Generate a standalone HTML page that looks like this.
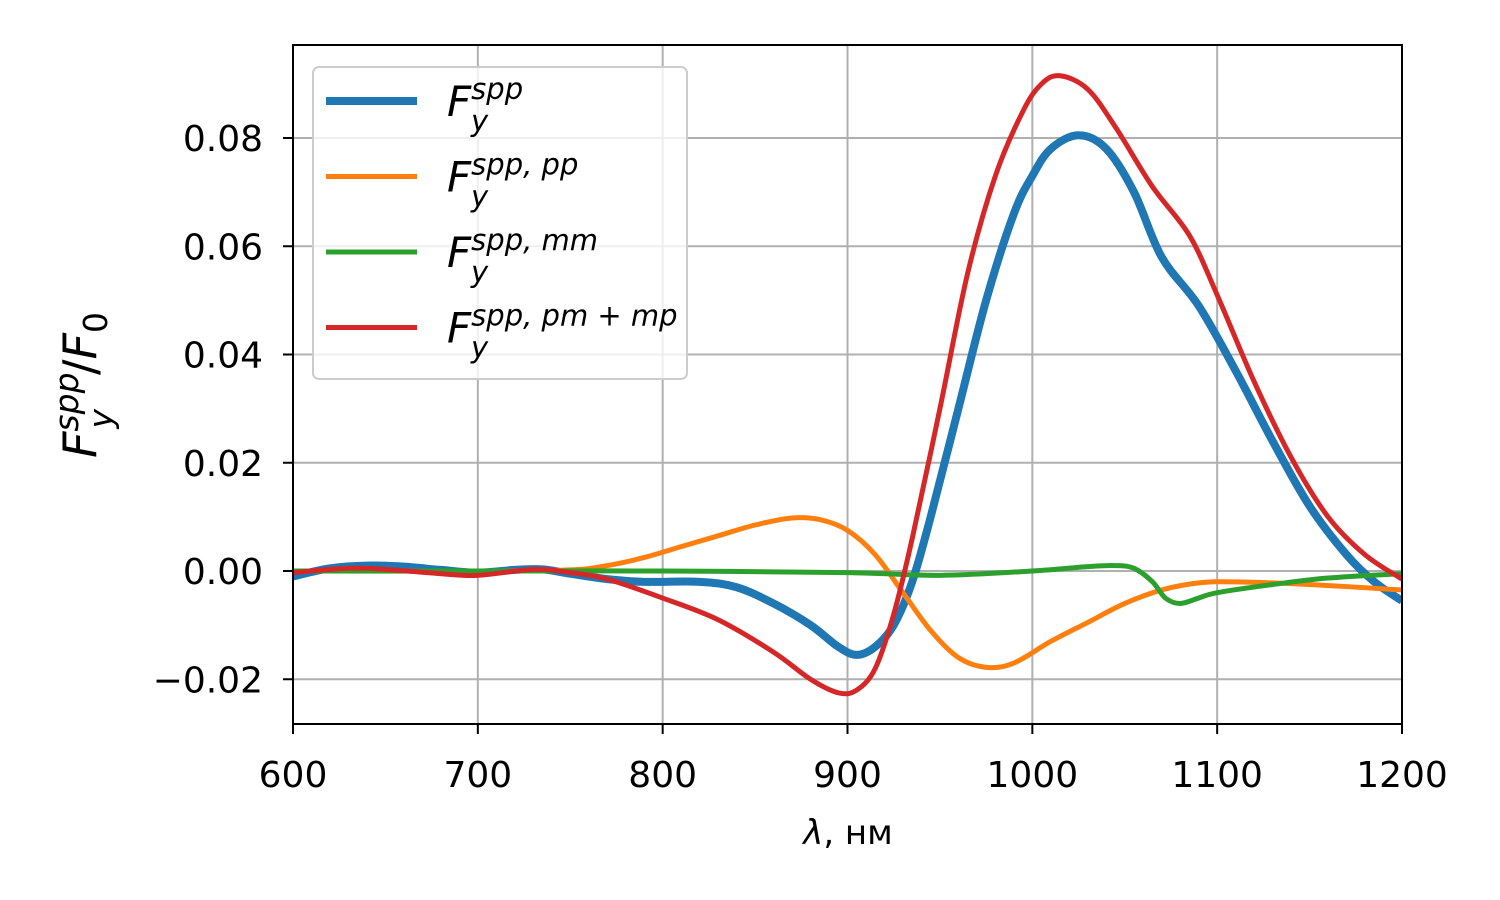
<!DOCTYPE html>
<html><head><meta charset="utf-8"><style>
html,body{margin:0;padding:0;background:#fff;}
svg{display:block;font-family:"DejaVu Sans","Liberation Sans",sans-serif;}
</style></head><body>
<svg id="chart" width="1500" height="900" viewBox="0 0 1500 900" xmlns="http://www.w3.org/2000/svg">
<rect width="1500" height="900" fill="#fff"/>
<g id="grid"></g>
<g id="series"></g>
<rect x="293" y="45" width="1109" height="679" fill="none" stroke="#000" stroke-width="2"/>
<g id="ticks"></g>
<text x="848" y="844" font-size="34" text-anchor="middle"><tspan font-style="italic">λ</tspan>, нм</text>
<text transform="translate(96,385) rotate(-90)" font-size="46" text-anchor="middle"><tspan font-style="italic">F</tspan><tspan font-style="italic" font-size="33" dy="-18">spp</tspan><tspan font-style="italic" font-size="33" dx="-56" dy="34">y</tspan><tspan dy="-16" dx="34">/</tspan><tspan font-style="italic">F</tspan><tspan font-size="33" dy="11">0</tspan></text>
<g>
<rect x="313" y="67" width="374" height="312" rx="6" fill="#fff" fill-opacity="0.8" stroke="#ccc" stroke-width="2"/>
<g id="legend-items"></g>
</g>
</svg>
<script>
const xTicks=[600,700,800,900,1000,1100,1200];
const yTicks=[-0.02,0,0.02,0.04,0.06,0.08];
const yTickLabels=["−0.02","0.00","0.02","0.04","0.06","0.08"];
const blueX=[600,620,640,660,680,700,720,735,750,770,790,820,840,860,880,895,905,915,925,935,945,960,975,990,1000,1010,1025,1040,1055,1070,1090,1110,1130,1150,1170,1185,1200];
const blueY=[-0.001,0.0005,0.001,0.0008,0.0002,-0.0003,0.0002,0.0003,-0.0005,-0.0015,-0.002,-0.002,-0.003,-0.006,-0.010,-0.014,-0.0155,-0.014,-0.010,-0.002,0.010,0.030,0.050,0.066,0.073,0.078,0.0805,0.078,0.070,0.058,0.049,0.037,0.024,0.012,0.003,-0.002,-0.0055];
const redX=[600,630,650,680,700,730,750,770,800,830,860,880,895,905,915,925,935,950,965,980,995,1005,1015,1030,1045,1065,1085,1100,1120,1140,1160,1180,1200];
const redY=[-0.0003,0.0005,0.0003,-0.0005,-0.0008,0.0003,-0.0003,-0.0015,-0.005,-0.009,-0.015,-0.020,-0.0225,-0.022,-0.018,-0.008,0.006,0.030,0.055,0.073,0.085,0.090,0.0915,0.089,0.082,0.071,0.062,0.051,0.035,0.021,0.010,0.003,-0.0015];
const orangeX=[600,700,750,770,790,810,830,850,870,885,900,915,930,945,960,975,990,1010,1030,1050,1070,1090,1110,1150,1200];
const orangeY=[0,0,0.0002,0.001,0.0025,0.0045,0.0065,0.0085,0.0098,0.0095,0.0075,0.003,-0.004,-0.011,-0.016,-0.0178,-0.017,-0.013,-0.0095,-0.006,-0.0035,-0.0022,-0.002,-0.0025,-0.0035];
const greenX=[600,700,800,900,950,1000,1030,1045,1055,1065,1072,1080,1090,1100,1130,1160,1200];
const greenY=[0,0,0,-0.0003,-0.0008,0,0.0008,0.001,0.0005,-0.002,-0.005,-0.006,-0.005,-0.004,-0.0025,-0.0013,-0.0005];
const NS="http://www.w3.org/2000/svg";
function sx(v){return 293+(v-600)*1109/600;}
function sy(v){return 571-v*(433/0.08);}
function mk(t,a,p){const e=document.createElementNS(NS,t);for(const k in a)e.setAttribute(k,a[k]);p.appendChild(e);return e;}
const grid=document.getElementById('grid'),ticks=document.getElementById('ticks');
xTicks.forEach(v=>{
 const l=mk('line',{x1:sx(v),x2:sx(v),y1:45,y2:724,stroke:'#b0b0b0','stroke-width':2},grid);
 
 
 const t=mk('line',{x1:sx(v),x2:sx(v),y1:724,y2:734,stroke:'#000','stroke-width':2},ticks);
 
 
 const tx=mk('text',{x:sx(v),y:787,'font-size':36,'text-anchor':'middle'},ticks);tx.textContent=v;
 
 
});
yTicks.forEach((v,i)=>{
 const l=mk('line',{x1:293,x2:1402,y1:sy(v),y2:sy(v),stroke:'#b0b0b0','stroke-width':2},grid);
 
 
 const t=mk('line',{x1:283,x2:293,y1:sy(v),y2:sy(v),stroke:'#000','stroke-width':2},ticks);
 
 
 const tx=mk('text',{x:263,y:sy(v)+13,'font-size':36,'text-anchor':'end'},ticks);tx.textContent=yTickLabels[i];
 
 
});
function pathD(xs,ys){
 const p=xs.map((x,i)=>[sx(x),sy(ys[i])]);
 let d='M'+p[0][0]+','+p[0][1];
 for(let i=0;i<p.length-1;i++){
  const p0=p[i-1]||p[i],p1=p[i],p2=p[i+1],p3=p[i+2]||p2;
  const c1=[p1[0]+(p2[0]-p0[0])/6,p1[1]+(p2[1]-p0[1])/6],c2=[p2[0]-(p3[0]-p1[0])/6,p2[1]-(p3[1]-p1[1])/6];
  d+=' C'+c1+' '+c2+' '+p2;
 }
 return d;
}
const sg=document.getElementById('series');
const specs=[[blueX,blueY,'#1f77b4',8,'series-fy-spp'],[orangeX,orangeY,'#ff7f0e',5,'series-fy-spp-pp'],[greenX,greenY,'#2ca02c',5,'series-fy-spp-mm'],[redX,redY,'#d62728',5,'series-fy-spp-pm-mp']];
const cp=mk('clipPath',{id:'clip'},sg);mk('rect',{x:293,y:45,width:1109,height:679},cp);
specs.forEach(s=>{
 const e=mk('path',{d:pathD(s[0],s[1]),fill:'none',stroke:s[2],'stroke-width':s[3],'stroke-linejoin':'round','clip-path':'url(#clip)'},sg);
 
 
});
const lg=document.getElementById('legend-items');
const labels=['','pp','mm','pm + mp'];
specs.forEach((s,i)=>{
 const y=101+i*75.5;
 const l=mk('line',{x1:326,x2:417,y1:y,y2:y,stroke:s[2],'stroke-width':s[3]},lg);
 
 
 const t=mk('text',{x:447,y:y+15,'font-size':42,'font-style':'italic'},lg);
 
 
 t.innerHTML='F<tspan font-size="29" dy="-17">spp'+(labels[i]?', '+labels[i]:'')+'</tspan>';
 const sub=mk('text',{x:471,y:y+30,'font-size':29,'font-style':'italic'},lg);sub.textContent='y';
 
 
});
</script>
</body></html>
